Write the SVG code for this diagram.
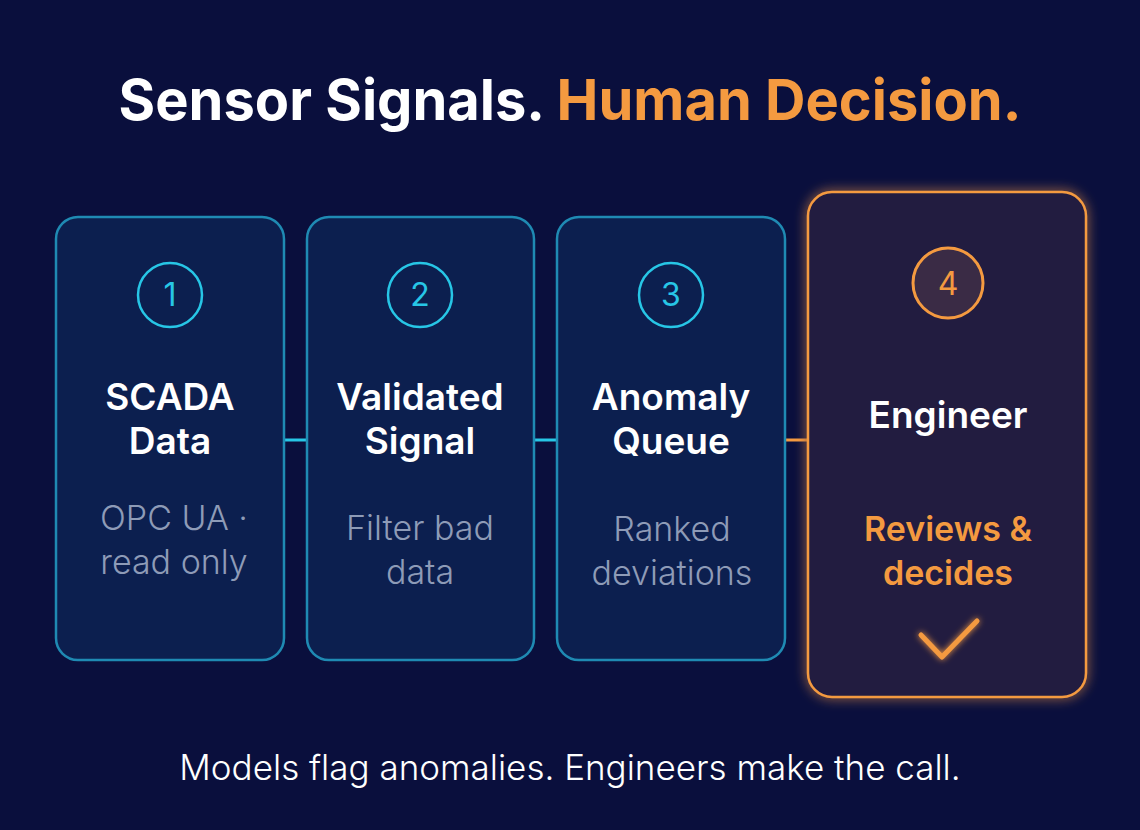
<svg xmlns="http://www.w3.org/2000/svg" width="1140" height="830" viewBox="0 0 1140 830">
<defs>
<style>
.card{fill:#0c1f4f;stroke:#1f8ab3;stroke-width:2.5}
.num{fill:none;stroke:#27c6e6;stroke-width:2.5}
.numt{font-family:Inter,"Open Sans",sans-serif;font-size:32px;font-weight:400;fill:#27c6e6;text-anchor:middle}
.title{font-family:Inter,"Open Sans",sans-serif;font-size:37px;font-weight:600;fill:#ffffff;text-anchor:middle}
.sub{font-family:Inter,"Open Sans",sans-serif;font-size:34px;font-weight:300;fill:#8e9bb7;text-anchor:middle}
.sub4{font-family:Inter,"Open Sans",sans-serif;font-size:34px;font-weight:600;fill:#f49a40;text-anchor:middle}
.head{font-family:Inter,"Open Sans",sans-serif;font-size:56px;font-weight:700;text-anchor:middle}
.foot{font-family:Inter,"Open Sans",sans-serif;font-size:35px;font-weight:300;fill:#ffffff;text-anchor:middle}
</style>
<filter id="glow" x="-20%" y="-20%" width="140%" height="140%">
<feGaussianBlur stdDeviation="6" result="b"/>
<feMerge><feMergeNode in="b"/><feMergeNode in="SourceGraphic"/></feMerge>
</filter>
<filter id="glow2" x="-50%" y="-50%" width="200%" height="200%">
<feGaussianBlur stdDeviation="3" result="b"/>
<feMerge><feMergeNode in="b"/><feMergeNode in="SourceGraphic"/></feMerge>
</filter>
</defs>
<rect width="1140" height="830" fill="#0a0f3d"/>
<text class="head" x="570" y="120"><tspan fill="#ffffff">Sensor Signals. </tspan><tspan fill="#f49a40">Human Decision.</tspan></text>
<g id="connectors">
<line x1="284" y1="440" x2="307" y2="440" stroke="#27c6e6" stroke-width="3"/>
<line x1="534" y1="440" x2="557" y2="440" stroke="#27c6e6" stroke-width="3"/>
<line x1="785" y1="440" x2="808" y2="440" stroke="#f49a40" stroke-width="3"/>
</g>
<g id="node1">
<rect class="card" x="56" y="217" width="228" height="443" rx="22"/>
<circle class="num" cx="170" cy="295" r="32"/>
<text class="numt" x="170" y="306">1</text>
<text class="title" x="170" y="410">SCADA</text>
<text class="title" x="170" y="454">Data</text>
<text class="sub" x="174" y="530">OPC UA ·</text>
<text class="sub" x="174" y="574">read only</text>
</g>
<g id="node2">
<rect class="card" x="307" y="217" width="227" height="443" rx="22"/>
<circle class="num" cx="420" cy="295" r="32"/>
<text class="numt" x="420" y="306">2</text>
<text class="title" x="420" y="410">Validated</text>
<text class="title" x="420" y="454">Signal</text>
<text class="sub" x="420" y="540">Filter bad</text>
<text class="sub" x="420" y="584">data</text>
</g>
<g id="node3">
<rect class="card" x="557" y="217" width="228" height="443" rx="22"/>
<circle class="num" cx="671" cy="295" r="32"/>
<text class="numt" x="671" y="306">3</text>
<text class="title" x="671" y="410">Anomaly</text>
<text class="title" x="671" y="454">Queue</text>
<text class="sub" x="672" y="541">Ranked</text>
<text class="sub" x="672" y="585">deviations</text>
</g>
<g id="node4">
<rect x="808" y="192" width="278" height="505" rx="24" fill="#221c41" stroke="#f49a40" stroke-width="2.5" filter="url(#glow)"/>
<circle cx="948" cy="283" r="35" fill="#3a2b45" stroke="#f49a40" stroke-width="3"/>
<text class="numt" x="948" y="295" style="fill:#f49a40">4</text>
<text class="title" x="948" y="428">Engineer</text>
<text class="sub4" x="948" y="541">Reviews &amp;</text>
<text class="sub4" x="948" y="585">decides</text>
<polyline points="921,635 942,657 977,621" fill="none" stroke="#f49a40" stroke-width="5" stroke-linecap="round" stroke-linejoin="round" filter="url(#glow2)"/>
</g>
<text class="foot" x="570" y="780">Models flag anomalies. Engineers make the call.</text>
</svg>
